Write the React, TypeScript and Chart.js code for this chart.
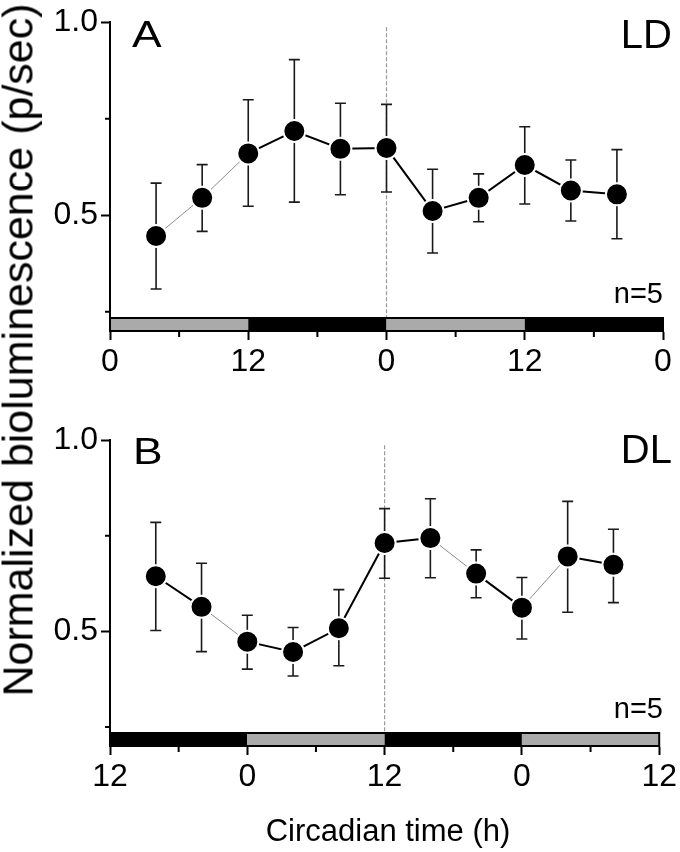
import React, { useEffect, useRef } from "react";
import { Chart, registerables } from "chart.js";
Chart.register(...registerables);

// ---- data ----
const hours = [4, 8, 12, 16, 20, 24, 28, 32, 36, 40, 44];
const meanA = [0.446, 0.545, 0.66, 0.718, 0.672, 0.674, 0.511, 0.545, 0.63, 0.564, 0.554];
const upperA = [0.583, 0.631, 0.799, 0.903, 0.79, 0.787, 0.619, 0.607, 0.729, 0.643, 0.67];
const lowerA = [0.309, 0.458, 0.523, 0.534, 0.553, 0.56, 0.402, 0.483, 0.529, 0.485, 0.439];
const meanB = [0.644, 0.564, 0.473, 0.446, 0.508, 0.731, 0.744, 0.651, 0.562, 0.696, 0.674];
const upperB = [0.785, 0.678, 0.542, 0.51, 0.609, 0.821, 0.847, 0.713, 0.641, 0.84, 0.767];
const lowerB = [0.502, 0.447, 0.401, 0.383, 0.41, 0.639, 0.64, 0.588, 0.48, 0.55, 0.575];
const xTickValues = [0, 6, 12, 18, 24, 30, 36, 42, 48];
const xTickLabelsA = ["0", "", "12", "", "0", "", "12", "", "0"];
const xTickLabelsB = ["12", "", "0", "", "12", "", "0", "", "12"];
const yTickValues = [0.25, 0.5, 0.75, 1.0];
const yTickLabels = ["", "0.5", "", "1.0"];
const phaseEdges = [0, 12, 24, 36, 48];
const phasesA = ["light", "dark", "light", "dark"];
const phasesB = ["dark", "light", "dark", "light"];
const transitionHour = 24;
const thinSegmentsA = [0, 1];
const thinSegmentsB = [1, 6, 8];

const FONT = "'Liberation Sans', Arial, Helvetica, sans-serif";

function makeConfig(mean: number[], upper: number[], lower: number[], xLabels: string[], phases: string[], thin: number[], xAxisHeight: number): any {
  const decor = {
    id: "panelDecor",
    beforeDatasetsDraw(chart: any) {
      const { ctx, chartArea, scales } = chart;
      const x = scales.x, y = scales.y;
      const barTop = chartArea.bottom - 13;
      ctx.save();
      const xp = x.getPixelForValue(transitionHour);
      ctx.strokeStyle = "#9a9a9a";
      ctx.lineWidth = 1.2;
      ctx.setLineDash([4, 2]);
      ctx.beginPath();
      ctx.moveTo(xp, chartArea.top + 5);
      ctx.lineTo(xp, barTop);
      ctx.stroke();
      ctx.setLineDash([]);
      ctx.strokeStyle = "#1a1a1a";
      ctx.lineWidth = 1.6;
      for (let i = 0; i < hours.length; i++) {
        const px = x.getPixelForValue(hours[i]);
        const pu = y.getPixelForValue(upper[i]);
        const pl = y.getPixelForValue(lower[i]);
        ctx.beginPath();
        ctx.moveTo(px, pu);
        ctx.lineTo(px, pl);
        ctx.moveTo(px - 5.5, pu);
        ctx.lineTo(px + 5.5, pu);
        ctx.moveTo(px - 5.5, pl);
        ctx.lineTo(px + 5.5, pl);
        ctx.stroke();
      }
      ctx.restore();
    },
    afterDraw(chart: any) {
      const { ctx, chartArea, scales } = chart;
      const x = scales.x, y = scales.y;
      const barTop = chartArea.bottom - 13;
      ctx.save();
      for (let i = 0; i < phases.length; i++) {
        const x0 = x.getPixelForValue(phaseEdges[i]);
        const x1 = x.getPixelForValue(phaseEdges[i + 1]);
        ctx.fillStyle = phases[i] === "light" ? "#aaaaaa" : "#000000";
        ctx.fillRect(x0, barTop, x1 - x0, chartArea.bottom - barTop);
      }
      ctx.strokeStyle = "#000";
      ctx.lineWidth = 2;
      ctx.strokeRect(chartArea.left, barTop, chartArea.right - chartArea.left, chartArea.bottom - barTop);
      ctx.beginPath();
      xTickValues.forEach((v, i) => {
        if (xLabels[i] === "") {
          const px = x.getPixelForValue(v);
          ctx.moveTo(px, chartArea.bottom);
          ctx.lineTo(px, chartArea.bottom + 6);
        }
      });
      yTickValues.forEach((v, i) => {
        if (yTickLabels[i] === "") {
          const py = y.getPixelForValue(v);
          ctx.moveTo(chartArea.left, py);
          ctx.lineTo(chartArea.left - 5, py);
        }
      });
      ctx.stroke();
      ctx.restore();
    },
  };

  return {
    type: "line",
    data: {
      datasets: [
        {
          data: hours.map((h, i) => ({ x: h, y: mean[i] })),
          borderColor: "#000",
          borderWidth: 2,
          pointRadius: 11,
          pointHoverRadius: 11,
          pointBackgroundColor: "#000",
          pointBorderColor: "#fff",
          pointBorderWidth: 2,
          segment: {
            borderColor: (c: any) => (thin.includes(c.p0DataIndex) ? "#8c8c8c" : "#000"),
            borderWidth: (c: any) => (thin.includes(c.p0DataIndex) ? 1 : 2),
          },
        },
      ],
    },
    options: {
      animation: false,
      responsive: false,
      events: [],
      layout: { padding: { top: 15, right: 17, left: 0, bottom: 0 } },
      plugins: { legend: { display: false }, tooltip: { enabled: false } },
      scales: {
        x: {
          type: "linear",
          min: 0,
          max: 48,
          afterBuildTicks: (s: any) => {
            s.ticks = xTickValues.map((v) => ({ value: v }));
          },
          afterFit: (s: any) => {
            s.height = xAxisHeight;
          },
          ticks: {
            autoSkip: false,
            maxRotation: 0,
            padding: 3,
            color: "#000",
            font: { family: FONT, size: 32 },
            callback: (_v: any, i: number) => xLabels[i],
          },
          grid: {
            drawOnChartArea: false,
            tickLength: 9,
            tickWidth: 2,
            tickColor: (c: any) => (xLabels[c.index] ? "#000" : "rgba(0,0,0,0)"),
          },
          border: { color: "#000", width: 2 },
        },
        y: {
          type: "linear",
          min: 0.2,
          max: 1.0,
          afterBuildTicks: (s: any) => {
            s.ticks = yTickValues.map((v) => ({ value: v }));
          },
          afterFit: (s: any) => {
            s.width = 110;
          },
          ticks: {
            autoSkip: false,
            padding: 3,
            color: "#000",
            font: { family: FONT, size: 32 },
            callback: (_v: any, i: number) => yTickLabels[i],
          },
          grid: {
            drawOnChartArea: false,
            tickLength: 9,
            tickWidth: 2,
            tickColor: (c: any) => (yTickLabels[c.index] ? "#000" : "rgba(0,0,0,0)"),
          },
          border: { color: "#000", width: 2 },
        },
      },
    },
    plugins: [decor],
  };
}

function Panel(props: { cfg: any; top: number }) {
  const ref = useRef<HTMLCanvasElement>(null);
  useEffect(() => {
    if (!ref.current) return;
    const chart = new Chart(ref.current, props.cfg);
    return () => chart.destroy();
  }, []);
  return (
    <canvas
      ref={ref}
      width={680}
      height={400}
      style={{ position: "absolute", left: 0, top: props.top, width: 680, height: 400 }}
    />
  );
}

const txt = (extra: any): any => ({
  position: "absolute",
  fontFamily: FONT,
  lineHeight: 1,
  color: "#000",
  whiteSpace: "nowrap",
  ...extra,
});

export default function App() {
  const cfgA = makeConfig(meanA, upperA, lowerA, xTickLabelsA, phasesA, thinSegmentsA, 69);
  const cfgB = makeConfig(meanB, upperB, lowerB, xTickLabelsB, phasesB, thinSegmentsB, 72);
  return (
    <div style={{ position: "absolute", left: 0, top: 0, width: 680, height: 852, background: "#fff", overflow: "hidden" }}>
      <Panel cfg={cfgA} top={0} />
      <Panel cfg={cfgB} top={418} />
      <div style={txt({ left: 132, top: 16, fontSize: 37, transform: "scaleX(1.2)", transformOrigin: "left top" })}>A</div>
      <div style={txt({ right: 8, top: 14, fontSize: 40 })}>LD</div>
      <div style={txt({ right: 17, top: 279, fontSize: 29 })}>n=5</div>
      <div style={txt({ left: 133, top: 433, fontSize: 37, transform: "scaleX(1.2)", transformOrigin: "left top" })}>B</div>
      <div style={txt({ right: 8, top: 429, fontSize: 40 })}>DL</div>
      <div style={txt({ right: 17, top: 694, fontSize: 29 })}>n=5</div>
      <div
        style={txt({
          left: 17.5,
          top: 350,
          fontSize: 43,
          transform: "translate(-50%, -50%) rotate(-90deg)",
        })}
      >
        Normalized bioluminescence (p/sec)
      </div>
      <div style={txt({ left: 388, top: 815, fontSize: 31, transform: "translateX(-50%)" })}>
        Circadian time (h)
      </div>
    </div>
  );
}
